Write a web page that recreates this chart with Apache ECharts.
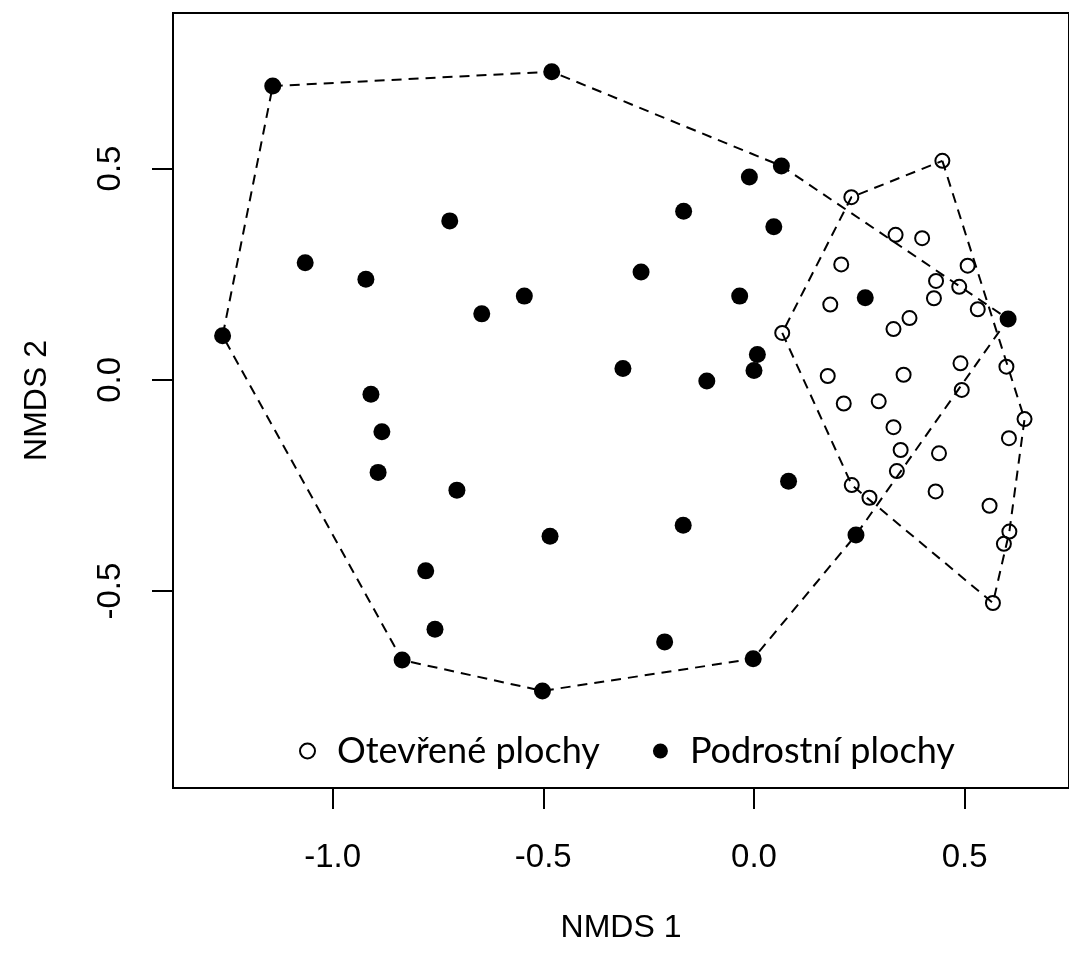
<!DOCTYPE html>
<html>
<head>
<meta charset="utf-8">
<script src="https://cdn.jsdelivr.net/npm/echarts@6/dist/echarts.min.js"></script>
<style>
html,body{margin:0;padding:0;background:#fff;}
#chart{width:1069px;height:953px;}
</style>
</head>
<body>
<div id="chart"></div>
<script>
// Open plots (Otevřené plochy) NMDS coordinates
const openX = [0.447,0.231,0.336,0.399,0.207,0.507,0.432,0.487,0.427,0.181,0.531,0.369,0.331,0.067,0.490,0.599,0.175,0.355,0.493,0.213,0.296,0.642,0.331,0.605,0.348,0.439,0.339,0.232,0.274,0.431,0.559,0.606,0.593,0.567];
const openY = [0.518,0.432,0.343,0.335,0.273,0.270,0.234,0.220,0.193,0.178,0.167,0.146,0.120,0.111,0.039,0.031,0.009,0.012,-0.024,-0.056,-0.051,-0.093,-0.112,-0.138,-0.166,-0.174,-0.216,-0.249,-0.279,-0.264,-0.298,-0.359,-0.388,-0.528];
// Understory plots (Podrostní plochy)
const underX = [-1.142,-0.480,-1.261,-0.722,-1.065,-0.921,-0.646,-0.545,-0.909,-0.883,-0.892,-0.705,-0.779,-0.757,-0.835,-0.502,-0.484,0.065,-0.011,-0.167,0.047,-0.268,-0.034,0.264,0.603,0.008,0.000,-0.311,-0.112,0.082,-0.168,0.242,-0.212,-0.002];
const underY = [0.695,0.729,0.104,0.376,0.277,0.238,0.156,0.198,-0.034,-0.123,-0.219,-0.261,-0.452,-0.590,-0.663,-0.736,-0.370,0.506,0.480,0.399,0.362,0.255,0.198,0.194,0.144,0.060,0.022,0.027,-0.003,-0.240,-0.344,-0.367,-0.620,-0.660];
// convex hull vertex indices (into the arrays above)
const openHull = [0,21,31,33,27,13,1,0];
const underHull = [0,1,17,24,31,33,15,14,2,0];
const xTicks = [-1.0,-0.5,0.0,0.5];
const yTicks = [-0.5,0.0,0.5];
const seriesNames = ['Otevřené plochy','Podrostní plochy'];
const axisNames = ['NMDS 1','NMDS 2'];

const pts = (xs, ys) => xs.map((x, i) => [x, ys[i]]);
const hull = (xs, ys, idx) => idx.map(i => [xs[i], ys[i]]);

const chart = echarts.init(document.getElementById('chart'));
const axisFont = 'Liberation Sans, Arial, sans-serif';
const dash = {color:'#000', width:2, type:[10,7]};
chart.setOption({
  animation:false,
  backgroundColor:'#fff',
  grid:{left:173, top:13, width:900, height:775, show:true, borderColor:'#000', borderWidth:2, backgroundColor:'transparent'},
  xAxis:{
    type:'value', min:-1.3787, max:0.7475,
    name:axisNames[0], nameLocation:'middle', nameGap:124,
    nameTextStyle:{fontFamily:axisFont, fontSize:32, color:'#000'},
    axisLine:{show:false, onZero:false}, splitLine:{show:false},
    axisTick:{show:true, length:21, lineStyle:{color:'#000', width:2}, customValues:xTicks},
    axisLabel:{fontFamily:axisFont, fontSize:33, color:'#000', margin:53, customValues:xTicks, formatter:v=>v.toFixed(1)}
  },
  yAxis:{
    type:'value', min:-0.9657, max:0.8678,
    name:axisNames[1], nameLocation:'middle', nameGap:120, nameRotate:90,
    nameTextStyle:{fontFamily:axisFont, fontSize:32, color:'#000'},
    axisLine:{show:false, onZero:false}, splitLine:{show:false},
    axisTick:{show:true, length:21, lineStyle:{color:'#000', width:2}, customValues:yTicks},
    axisLabel:{fontFamily:axisFont, fontSize:33, color:'#000', margin:46, rotate:90, customValues:yTicks, formatter:v=>v.toFixed(1)}
  },
  legend:{
    data:seriesNames, left:299, top:733, orient:'horizontal', padding:0,
    itemWidth:15, itemHeight:15, itemGap:53, icon:'circle',
    textStyle:{fontFamily:'Lato, sans-serif', fontSize:36, color:'#000', padding:[0,0,0,17]}
  },
  series:[
    {type:'line', data:hull(underX, underY, underHull), symbol:'none', lineStyle:dash, silent:true, z:1},
    {type:'line', data:hull(openX, openY, openHull), symbol:'none', lineStyle:dash, silent:true, z:1},
    {name:seriesNames[0], type:'scatter', data:pts(openX, openY), symbol:'circle', symbolSize:14,
     itemStyle:{color:'rgba(0,0,0,0)', borderColor:'#000', borderWidth:2, opacity:1}, z:2},
    {name:seriesNames[1], type:'scatter', data:pts(underX, underY), symbol:'circle', symbolSize:17,
     itemStyle:{color:'#000', opacity:1}, z:2}
  ]
});
</script>
</body>
</html>
